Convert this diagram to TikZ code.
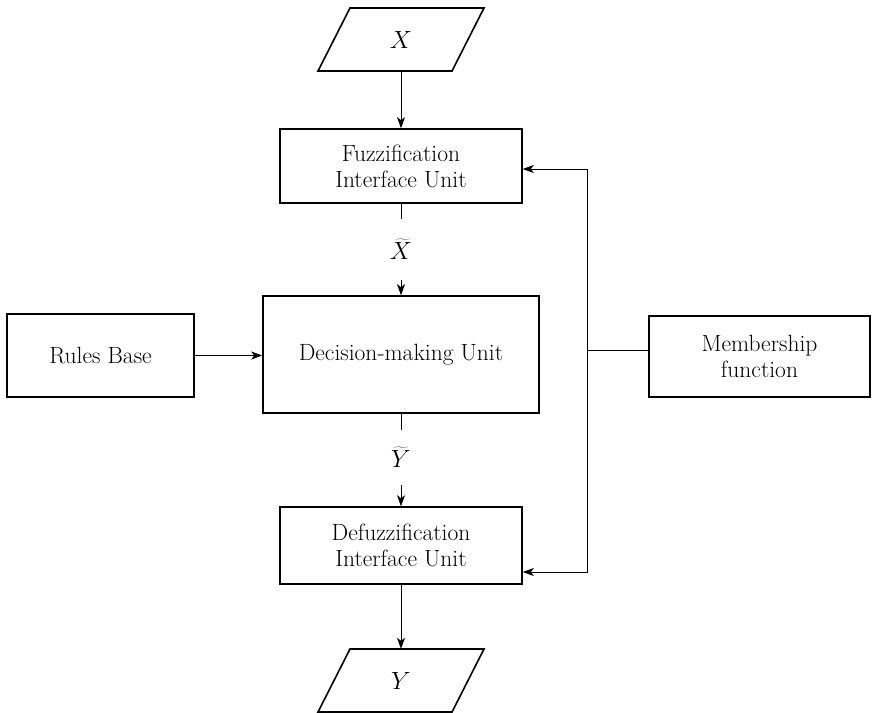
\documentclass[tikz,border=0pt]{standalone}
\usetikzlibrary{arrows.meta,calc}
\begin{document}
\begin{tikzpicture}[x=1pt,y=-1pt,
  font=\fontsize{23.5}{26}\selectfont,
  box/.style={draw, line width=1.6pt, align=center, inner sep=0pt},
  shp/.style={line width=1.6pt, line join=miter},
  conn/.style={line width=0.8pt},
  arr/.style={conn, -{Stealth[length=11pt,width=8pt,inset=3pt]}},
  lbl/.style={inner sep=0pt, minimum width=30pt}]
\useasboundingbox (0,0) rectangle (872,712);
% input / output parallelograms
\node[inner sep=0pt, minimum width=100pt, minimum height=63pt] (X) at (401,39.5) {$X$};
\draw[shp] ($(X.center)+(-51,-31.5)$) -- ($(X.center)+(83,-31.5)$) -- ($(X.center)+(51,31.5)$) -- ($(X.center)+(-83,31.5)$) -- cycle;
\node[inner sep=0pt, minimum width=100pt, minimum height=63pt] (Y) at (401,680.5) {$Y$};
\draw[shp] ($(Y.center)+(-51,-31.5)$) -- ($(Y.center)+(83,-31.5)$) -- ($(Y.center)+(51,31.5)$) -- ($(Y.center)+(-83,31.5)$) -- cycle;
% boxes
\node[box, minimum width=242pt, minimum height=74pt] (F) at (401,166) {Fuzzification\\Interface Unit};
\node[box, minimum width=276pt, minimum height=117pt] (D) at (401,354.5) {Decision-making Unit};
\node[box, minimum width=242pt, minimum height=77pt] (Df) at (401,545.5) {Defuzzification\\Interface Unit};
\node[box, minimum width=187pt, minimum height=83pt] (R) at (100.5,355.5) {Rules Base};
\node[box, minimum width=221pt, minimum height=81pt] (M) at (759.5,356.5) {Membership\\function};
% labels
\node[lbl, minimum height=61pt] (xt) at (401,249.5) {$\widetilde{X}$};
\node[lbl, minimum height=55pt] (yt) at (401,457.5) {$\widetilde{Y}$};
% connectors
\draw[arr] (X.south) -- (F.north);
\draw[conn] (F.south) -- (xt.north);
\draw[arr] (xt.south) -- (D.north);
\draw[conn] (D.south) -- (yt.north);
\draw[arr] (yt.south) -- (Df.north);
\draw[arr] (Df.south) -- (Y.north);
\draw[arr] (R.east) -- (D.west |- R.east);
\coordinate (j) at (587,350);
\coordinate (jt) at (587,169);
\coordinate (jb) at (587,572);
\draw[conn] (M.west |- j) -- (j);
\draw[arr] (j) -- (jt) -- (F.east |- jt);
\draw[arr] (j) -- (jb) -- (Df.east |- jb);
\end{tikzpicture}
\end{document}
